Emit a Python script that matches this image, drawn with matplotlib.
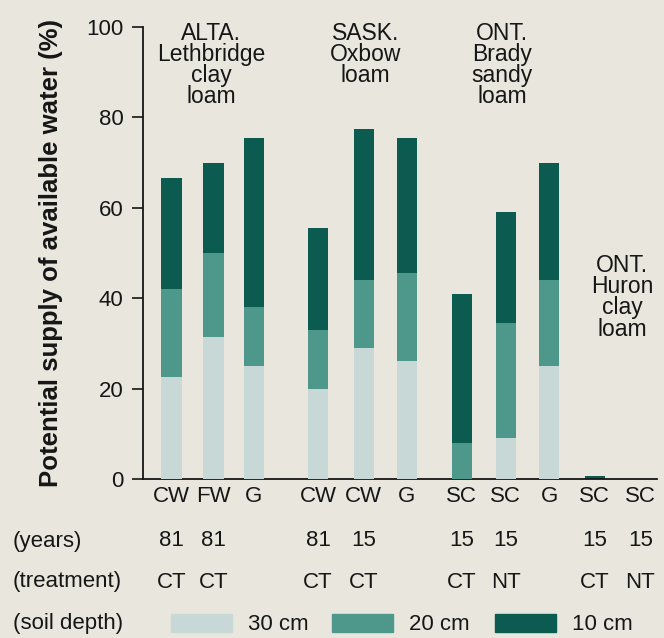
import numpy as np
import matplotlib.pyplot as plt
import matplotlib.transforms as mtransforms

plt.rcParams["font.family"] = ["Liberation Sans", "DejaVu Sans"]

# crop system under each bar, plus years in crop and tillage treatment
crops = ["CW", "FW", "G", "CW", "CW", "G", "SC", "SC", "G", "SC", "SC"]
years = ["81", "81", "", "81", "15", "", "15", "15", "", "15", "15"]
treatment = ["CT", "CT", "", "CT", "CT", "", "CT", "NT", "", "CT", "NT"]

# cumulative supply of available water (%) reached at each soil depth
depth_30cm = np.array([22.5, 31.5, 25.0, 20.0, 29.0, 26.0, 0.0, 9.0, 25.0, 0.0, 0.0])
depth_20cm = np.array([42.0, 50.0, 38.0, 33.0, 44.0, 45.5, 8.0, 34.5, 44.0, 0.0, 0.0])
depth_10cm = np.array([66.5, 70.0, 75.5, 55.5, 77.5, 75.5, 41.0, 59.0, 70.0, 0.7, 0.0])

sites = ["ALTA.\nLethbridge\nclay\nloam", "SASK.\nOxbow\nloam",
         "ONT.\nBrady\nsandy\nloam", "ONT.\nHuron\nclay\nloam"]

# bar positions (grouped by site, with gaps between sites)
xpos = np.array([0.66, 1.64, 2.58, 4.07, 5.13, 6.13, 7.41, 8.43, 9.44, 10.50, 11.56])
site_x = [1.58, 5.17, 8.35, 11.14]
site_y = [101.2, 101.2, 101.2, 49.8]

c_light = "#c8d8d6"
c_mid = "#4e978b"
c_dark = "#0b5b50"
bg = "#e9e7dd"
ink = "#161616"

fig = plt.figure(figsize=(6.64, 6.38), dpi=100, facecolor=bg)
ax = fig.add_axes([0.2154, 0.2492, 0.7741, 0.7085])
ax.set_facecolor(bg)

width = 0.47
ax.bar(xpos, depth_10cm, width, color=c_dark, zorder=2)
ax.bar(xpos, depth_20cm, width, color=c_mid, zorder=3)
ax.bar(xpos, depth_30cm, width, color=c_light, zorder=4)

ax.set_xlim(0, 11.95)
ax.set_ylim(0, 100)
ax.set_yticks([0, 20, 40, 60, 80, 100])
ax.tick_params(axis="y", length=8, width=1.2, labelsize=16, pad=6,
               color=ink, labelcolor=ink)
ax.set_xticks([])
for side in ["top", "right"]:
    ax.spines[side].set_visible(False)
for side in ["left", "bottom"]:
    ax.spines[side].set_linewidth(1.3)
    ax.spines[side].set_color(ink)

ax.set_ylabel("Potential supply of available water (%)", fontsize=18.5,
              fontweight="bold", color=ink)
ax.yaxis.set_label_coords(-0.155, 0.5)

for x, label, y in zip(site_x, sites, site_y):
    ax.text(x, y, label, ha="center", va="top", fontsize=16.5,
            linespacing=0.9, color=ink, clip_on=False)

# rows of labels under the axis
trans = mtransforms.blended_transform_factory(ax.transData, fig.transFigure)
row_y = [1 - 497 / 638, 1 - 541 / 638, 1 - 582 / 638]
for x, c, yr, tr in zip(xpos, crops, years, treatment):
    ax.text(x, row_y[0], c, transform=trans, ha="center", va="center", fontsize=16, color=ink)
    ax.text(x, row_y[1], yr, transform=trans, ha="center", va="center", fontsize=16, color=ink)
    ax.text(x, row_y[2], tr, transform=trans, ha="center", va="center", fontsize=16, color=ink)

row_names = ["(years)", "(treatment)", "(soil depth)"]
for name, y in zip(row_names, row_y[1:] + [1 - 624 / 638]):
    fig.text(13 / 664, y, name, ha="left", va="center", fontsize=16, color=ink)

# soil depth key
key_y = 1 - 623 / 638
key = [(171, c_light, "30 cm"), (332, c_mid, "20 cm"), (495, c_dark, "10 cm")]
for x0, col, txt in key:
    fig.patches.append(plt.Rectangle((x0 / 664, key_y - 9 / 638), 61 / 664, 18 / 638,
                                     transform=fig.transFigure, color=col))
    fig.text((x0 + 77) / 664, 1 - 624 / 638, txt, ha="left", va="center",
             fontsize=16, color=ink)

fig.savefig("out.png", dpi=100, facecolor=bg)
